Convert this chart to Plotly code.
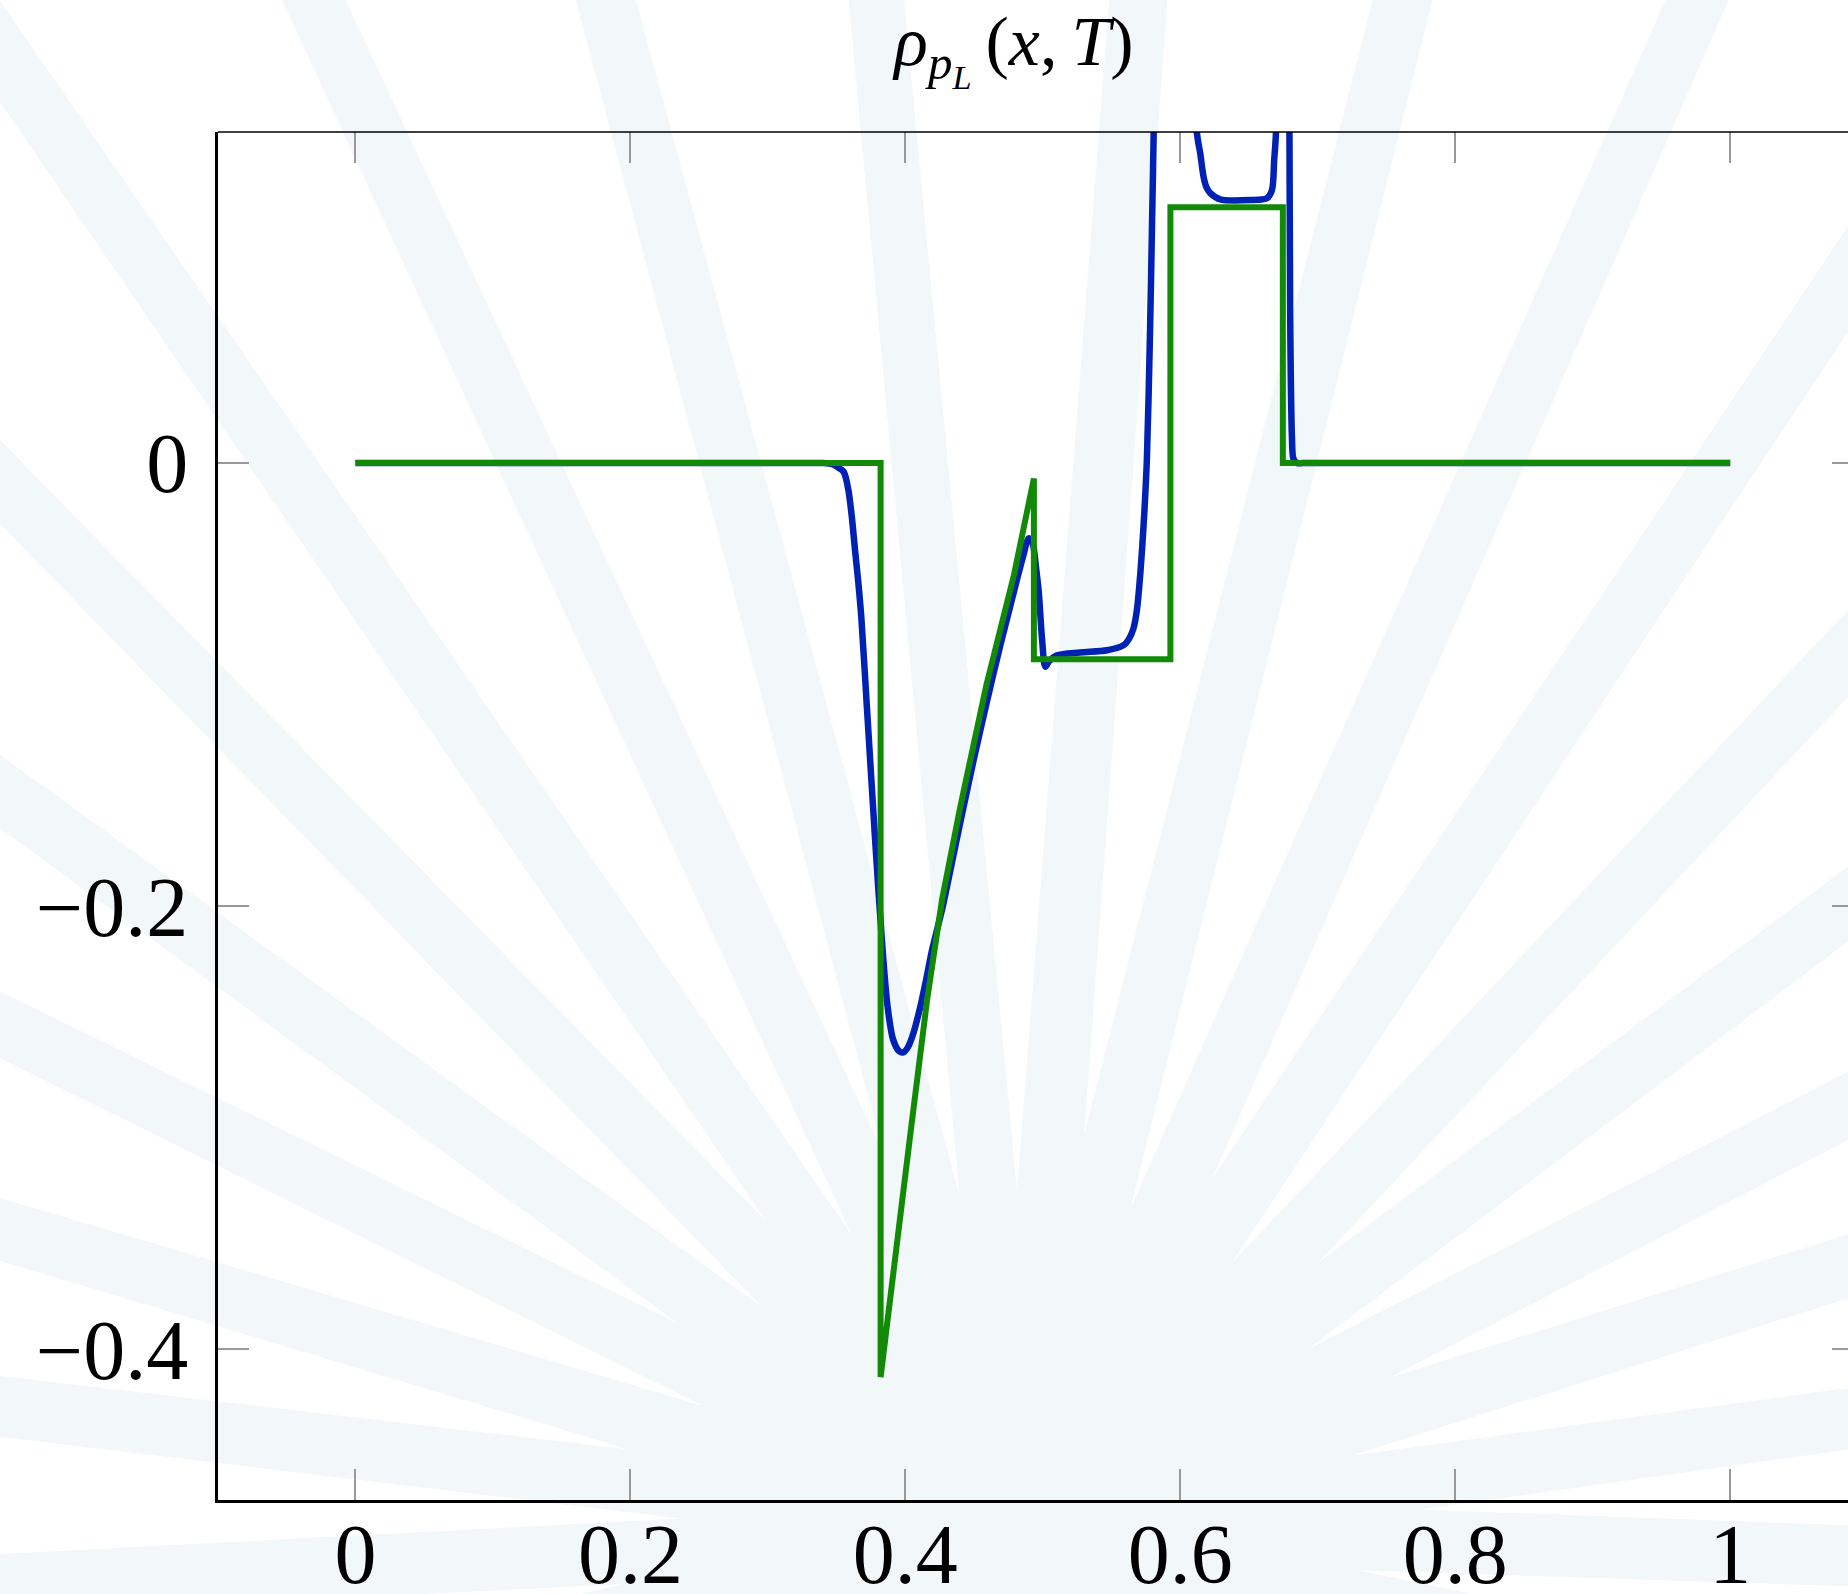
import math
import plotly.graph_objects as go

# ---------------- data ----------------
x_tick_vals = [0, 0.2, 0.4, 0.6, 0.8, 1]
x_tick_text = ["0", "0.2", "0.4", "0.6", "0.8", "1"]
y_tick_vals = [0, -0.2, -0.4]
y_tick_text = ["0", "\u22120.2", "\u22120.4"]

# exact / reference solution (green)
green_x = [0, 0.382, 0.382, 0.3915, 0.4037, 0.4158, 0.4267, 0.440, 0.459, 0.479, 0.4935,
           0.4935, 0.5928, 0.5928, 0.6746, 0.6746, 1.0]
green_y = [0, 0, -0.4125, -0.363, -0.3025, -0.2424, -0.197, -0.155, -0.100, -0.0505, -0.007,
           -0.0886, -0.0886, 0.1154, 0.1154, 0, 0]

# numerical solution (blue)
blue_x = [0, 0.01, 0.33, 0.340, 0.347, 0.351, 0.3552, 0.3585, 0.3610, 0.3635, 0.3658, 0.3680,
          0.372, 0.378, 0.383, 0.387, 0.391, 0.3955, 0.3985, 0.402, 0.406, 0.411, 0.415,
          0.419, 0.4227, 0.4267, 0.433, 0.440, 0.4495, 0.459, 0.469, 0.479, 0.4855, 0.4897,
          0.4925, 0.495, 0.497, 0.4995, 0.5018, 0.5045, 0.5103, 0.527, 0.5467, 0.5588, 0.563,
          0.566, 0.5685, 0.5709, 0.5733, 0.5757, 0.578, 0.5795, 0.5806, 0.582, 0.590, 0.600,
          0.607, 0.6121, 0.6145, 0.6169, 0.619, 0.6218, 0.629, 0.651, 0.663, 0.6667, 0.6683,
          0.6696, 0.672, 0.676, 0.6785, 0.6794, 0.6799, 0.6804, 0.6812, 0.6823, 0.685, 0.689,
          0.695, 0.99, 1.0]
blue_y = [0, 0, 0, 0, -0.0005, -0.002, -0.004, -0.012, -0.024, -0.040, -0.054, -0.070,
          -0.110, -0.170, -0.216, -0.245, -0.260, -0.2655, -0.266, -0.2635, -0.257, -0.245, -0.2335,
          -0.221, -0.2115, -0.2015, -0.183, -0.162, -0.1345, -0.1085, -0.0825, -0.058, -0.0425, -0.034,
          -0.036, -0.047, -0.058, -0.080, -0.092, -0.0895, -0.0868, -0.0855, -0.0845, -0.0822, -0.079,
          -0.0745, -0.066, -0.050, -0.028, 0.002, 0.06, 0.11, 0.148, 0.22, 0.40, 0.40,
          0.25, 0.149, 0.1398, 0.1293, 0.1245, 0.1218, 0.119, 0.1187, 0.1195, 0.1232, 0.1368,
          0.149, 0.25, 0.30, 0.22, 0.149, 0.069, 0.0375, 0.012, 0.002, 0, 0,
          0, 0, 0]

X_RANGE = [-0.1, 1.0857]
Y_RANGE = [-0.468, 0.1494]

# ---------------- layout geometry (pixels) ----------------
W, H = 1848, 1594
L, R, T, B = 218, 0, 132, 94
PW, PH = W - L - R, H - T - B

def to_paper(px, py):
    return (px - L) / PW, (H - B - py) / PH

# decorative sunburst background (white wedges over pale paper)
shapes = []
cx, cy = 1020, 1530
n_rays = 37
beta = math.radians(4.4)
offset = math.radians(-0.5)
Rfar = 3200
for k in range(n_rays):
    th = offset + math.radians(k * 360.0 / n_rays)
    r0 = 340 if k % 2 == 0 else 400
    pts = [
        (cx + r0 * math.sin(th), cy - r0 * math.cos(th)),
        (cx + Rfar * math.sin(th - beta), cy - Rfar * math.cos(th - beta)),
        (cx + Rfar * math.sin(th + beta), cy - Rfar * math.cos(th + beta)),
    ]
    pp = [to_paper(*p) for p in pts]
    path = "M {:.5f},{:.5f} L {:.5f},{:.5f} L {:.5f},{:.5f} Z".format(
        pp[0][0], pp[0][1], pp[1][0], pp[1][1], pp[2][0], pp[2][1])
    shapes.append(dict(type="path", path=path, xref="paper", yref="paper",
                       fillcolor="white", line=dict(width=0), layer="below"))

# thin top frame line
shapes.append(dict(type="line", xref="paper", yref="paper", x0=0, x1=1.05, y0=1, y1=1,
                   line=dict(color="black", width=1.3), layer="above"))

fig = go.Figure()
fig.add_trace(go.Scatter(x=blue_x, y=blue_y, mode="lines",
                         line=dict(color="#0022b4", width=6.5, shape="spline", smoothing=0.8),
                         showlegend=False, hoverinfo="skip"))
fig.add_trace(go.Scatter(x=green_x, y=green_y, mode="lines",
                         line=dict(color="#138a07", width=6), showlegend=False,
                         hoverinfo="skip"))
# empty trace to activate the mirrored tick axes
fig.add_trace(go.Scatter(x=[], y=[], xaxis="x2", yaxis="y2", showlegend=False,
                         hoverinfo="skip"))

tick_font = dict(family="Liberation Serif", size=84, color="black")

fig.update_layout(
    width=W, height=H,
    margin=dict(l=L, r=R, t=T, b=B, pad=0, autoexpand=False),
    paper_bgcolor="#f2f7f9",
    plot_bgcolor="rgba(0,0,0,0)",
    shapes=shapes,
    title=dict(
        text="<i>ρ</i><sub><i>p</i><sub><i>L</i></sub></sub>\u2009(<i>x</i>,\u2009<i>T</i>)",
        font=dict(family="Liberation Serif", size=70, color="black"),
        xref="container", yref="container",
        x=1014 / W, xanchor="center",
        y=1 - 40 / H, yanchor="middle",
        automargin=False,
    ),
    xaxis=dict(range=X_RANGE, tickvals=x_tick_vals, ticktext=x_tick_text,
               showgrid=False, zeroline=False, showline=True, linecolor="black",
               linewidth=3, ticks="inside", ticklen=31, tickwidth=1.5,
               tickcolor="#999999", tickfont=tick_font, ticklabelstandoff=-21,
               automargin=False),
    xaxis2=dict(overlaying="x", matches="x", side="top", range=X_RANGE,
                tickvals=x_tick_vals, showticklabels=False, showgrid=False,
                zeroline=False, showline=False, ticks="inside", ticklen=31,
                tickwidth=1.5, tickcolor="#999999", automargin=False),
    yaxis=dict(range=Y_RANGE, tickvals=y_tick_vals, ticktext=y_tick_text,
               showgrid=False, zeroline=False, showline=True, linecolor="black",
               linewidth=3, ticks="inside", ticklen=31, tickwidth=1.5,
               tickcolor="#999999", tickfont=tick_font, ticklabelstandoff=10,
               automargin=False),
    yaxis2=dict(overlaying="y", matches="y", side="right", range=Y_RANGE,
                tickvals=y_tick_vals, showticklabels=False, showgrid=False,
                zeroline=False, showline=False, ticks="inside", ticklen=16,
                tickwidth=1.5, tickcolor="#999999", automargin=False),
)

fig.write_html("out.html", config={"displayModeBar": False},
               post_script="document.body.style.margin='0';document.body.style.overflow='hidden';")
